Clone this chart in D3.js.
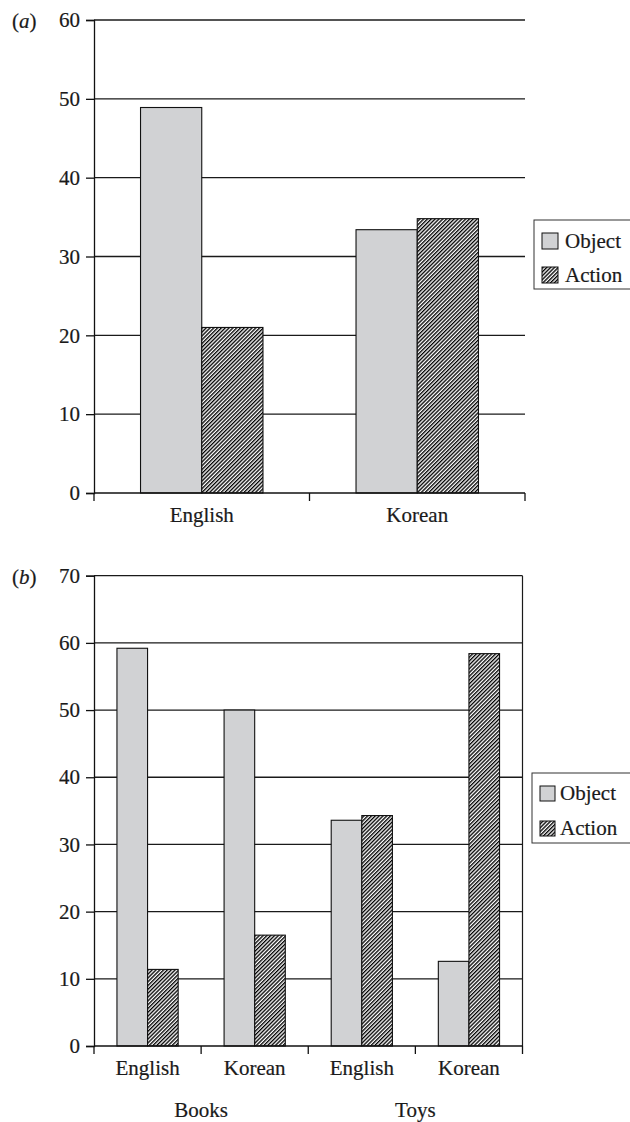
<!DOCTYPE html>
<html>
<head>
<meta charset="utf-8">
<script src="https://cdn.jsdelivr.net/npm/d3@7"></script>
<style>
  html, body { margin: 0; padding: 0; background: #fff; }
  svg { display: block; }
  svg text { font-family: "Liberation Serif", "Times New Roman", Times, "DejaVu Serif", serif; }
</style>
</head>
<body>
<svg id="chart" width="630" height="1122"></svg>
<script>
// Series shared by both panels
const series = ["Object", "Action"];

// Panel (a): percentages by language
const langCategories = ["English", "Korean"];
const objectA = [48.9, 33.4];
const actionA = [21.0, 34.8];
const ticksA = [0, 10, 20, 30, 40, 50, 60];

// Panel (b): percentages by context and language
const contextCategories = ["Books-English", "Books-Korean", "Toys-English", "Toys-Korean"];
const contextLabels = ["English", "Korean", "English", "Korean"];
const groupLabels = ["Books", "Toys"];
const objectB = [59.2, 50.0, 33.6, 12.6];
const actionB = [11.4, 16.5, 34.3, 58.4];
const ticksB = [0, 10, 20, 30, 40, 50, 60, 70];

const svg = d3.select("#chart");
const FONT = 21;
const SERIF = "'Liberation Serif', 'Times New Roman', Times, 'DejaVu Serif', serif";
const GREY = "#d1d2d4";
const INK = "#1a1a1a";

// Dense diagonal hatch used for the Action series
const P = 2.7;
const defs = svg.append("defs");
const pat = defs.append("pattern")
  .attr("id", "hatch")
  .attr("patternUnits", "userSpaceOnUse")
  .attr("width", P).attr("height", P)
  .attr("patternTransform", "rotate(45)");
pat.append("rect").attr("width", P).attr("height", P).attr("fill", "#fff");
pat.append("rect").attr("x", 0).attr("y", 0).attr("width", P * 0.5).attr("height", P).attr("fill", "#000");

const fillFor = s => s === "Object" ? GREY : "url(#hatch)";

function label(sel) {
  return sel.attr("font-family", SERIF).attr("font-size", FONT).attr("fill", INK)
    .attr("stroke", INK).attr("stroke-width", 0.2);
}

function drawPanel(opt) {
  const g = svg.append("g");
  const y = d3.scaleLinear().domain([0, opt.max]).range([opt.bottom, opt.top]);
  const x0 = d3.scaleBand().domain(opt.categories).range([opt.left, opt.right]).padding(0);
  const x1 = d3.scaleBand().domain(series).range([0, x0.bandwidth()]).paddingInner(0).paddingOuter(opt.outer);

  // horizontal gridlines
  g.append("g").selectAll("line").data(opt.ticks.filter(t => t > 0)).join("line")
    .attr("x1", opt.left).attr("x2", opt.right)
    .attr("y1", d => y(d)).attr("y2", d => y(d))
    .attr("stroke", INK).attr("stroke-width", 1.3);

  if (opt.frame) {
    g.append("line")
      .attr("x1", opt.right).attr("x2", opt.right)
      .attr("y1", y(opt.max)).attr("y2", y(0))
      .attr("stroke", INK).attr("stroke-width", 1.2);
  }

  // bars
  const rows = opt.categories.map((c, i) => ({ c, vals: [opt.object[i], opt.action[i]] }));
  g.append("g").selectAll("g").data(rows).join("g")
    .attr("transform", d => `translate(${x0(d.c)},0)`)
    .selectAll("rect").data(d => d.vals.map((v, j) => ({ s: series[j], v })))
    .join("rect")
    .attr("x", d => x1(d.s))
    .attr("width", x1.bandwidth())
    .attr("y", d => y(d.v))
    .attr("height", d => y(0) - y(d.v))
    .attr("fill", d => fillFor(d.s))
    .attr("stroke", "#111").attr("stroke-width", 1.1);

  // y axis
  const yAxis = d3.axisLeft(y).tickValues(opt.ticks).tickSize(8).tickPadding(6).tickFormat(d3.format("d"));
  const ya = g.append("g").attr("transform", `translate(${opt.left},0)`).call(yAxis)
    .attr("font-family", SERIF).attr("font-size", FONT);
  ya.select(".domain").attr("stroke", "#111").attr("stroke-width", 1.3);
  ya.selectAll(".tick line").attr("stroke", "#111").attr("stroke-width", 1.3);
  label(ya.selectAll(".tick text"));

  // x axis with boundary ticks
  const xa = g.append("g");
  xa.append("line").attr("x1", opt.left).attr("x2", opt.right)
    .attr("y1", y(0)).attr("y2", y(0)).attr("stroke", "#111").attr("stroke-width", 1.3);
  const bounds = opt.categories.map(c => x0(c)).concat([x0(opt.categories[opt.categories.length - 1]) + x0.bandwidth()]);
  xa.selectAll("line.tk").data(bounds).join("line").attr("class", "tk")
    .attr("x1", d => d).attr("x2", d => d)
    .attr("y1", y(0)).attr("y2", y(0) + 8)
    .attr("stroke", "#111").attr("stroke-width", 1.3);
  label(xa.selectAll("text").data(opt.categories).join("text")
    .attr("x", d => x0(d) + x0.bandwidth() / 2)
    .attr("y", y(0) + 29)
    .attr("text-anchor", "middle"))
    .text((d, i) => opt.labels[i]);

  if (opt.groups) {
    const per = opt.categories.length / opt.groups.length;
    label(g.selectAll("text.grp").data(opt.groups).join("text").attr("class", "grp")
      .attr("x", (d, i) => x0(opt.categories[i * per + per - 1]))
      .attr("y", y(0) + 71)
      .attr("text-anchor", "middle"))
      .text(d => d);
  }

  // panel letter
  const pl = label(g.append("text").attr("x", 12).attr("y", y(opt.max) + 8));
  pl.append("tspan").text("(");
  pl.append("tspan").attr("font-style", "italic").text(opt.letter);
  pl.append("tspan").text(")");

  // legend
  const L = opt.legend;
  const lg = g.append("g");
  lg.append("rect").attr("x", L.x).attr("y", L.y).attr("width", 140).attr("height", L.h)
    .attr("fill", "#fff").attr("stroke", "#333").attr("stroke-width", 1);
  series.forEach((s, i) => {
    const cy = L.y + L.pad + i * L.step;
    lg.append("rect").attr("x", L.x + L.sx).attr("y", cy).attr("width", L.sw).attr("height", L.sw)
      .attr("fill", fillFor(s)).attr("stroke", "#111").attr("stroke-width", 1);
    label(lg.append("text").attr("x", L.x + L.tx).attr("y", cy + L.sw - 1)).text(s);
  });
}

drawPanel({
  letter: "a", categories: langCategories, labels: langCategories,
  object: objectA, action: actionA, ticks: ticksA, max: 60,
  left: 94, right: 525, top: 20, bottom: 493, outer: 0.76, frame: false,
  legend: { x: 534, y: 220, h: 69, pad: 13, step: 34, sx: 8, sw: 16, tx: 31 }
});

drawPanel({
  letter: "b", categories: contextCategories, labels: contextLabels, groups: groupLabels,
  object: objectB, action: actionB, ticks: ticksB, max: 70,
  left: 94, right: 522.5, top: 575.7, bottom: 1046, outer: 0.75, frame: true,
  legend: { x: 532, y: 773, h: 70, pad: 13, step: 35, sx: 8, sw: 15, tx: 28 }
});
</script>
</body>
</html>
